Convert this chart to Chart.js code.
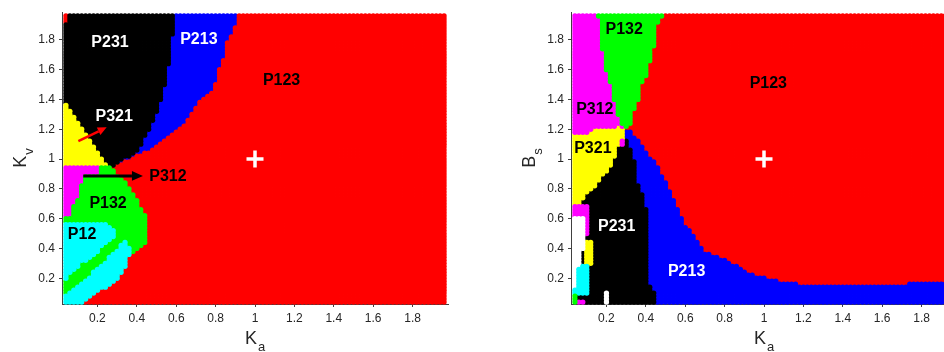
<!DOCTYPE html>
<html>
<head>
<meta charset="utf-8">
<script src="https://cdn.jsdelivr.net/npm/chart.js@4.4.1/dist/chart.umd.min.js"></script>
<style>
  html, body { margin: 0; padding: 0; background: #fff; width: 944px; height: 352px; overflow: hidden; }
  .panel { position: absolute; top: 0; width: 460px; height: 352px; }
</style>
</head>
<body>
<div class="panel" style="left:0"><canvas id="leftChart" width="460" height="352"></canvas></div>
<div class="panel" style="left:509px"><canvas id="rightChart" width="460" height="352"></canvas></div>

<script>
// sampling grid (Ka and the vertical parameter share it)
const gridFrom = 0.04;
const gridStep = 0.02;
const gridSize = 97;

// axis ticks
const tickValues = [0.2, 0.4, 0.6, 0.8, 1, 1.2, 1.4, 1.6, 1.8];
const tickLabels = ['0.2', '0.4', '0.6', '0.8', '1', '1.2', '1.4', '1.6', '1.8'];

// operating point
const centrePoint = [{ x: 1, y: 1 }];

// ---- left map (Ka, Kv): region outlines as [Ka, Kv] vertices ----
const leftBlue = [[0, 2.05], [0.925, 2.05], [0.922, 1.98], [0.902, 1.9], [0.882, 1.84], [0.856, 1.77],
  [0.836, 1.65], [0.821, 1.61], [0.786, 1.45], [0.72, 1.39], [0.654, 1.25], [0.583, 1.17],
  [0.482, 1.07], [0.38, 1.01], [0.28, 0.95], [0, 0.95]];
const leftBlack = [[0, 2.05], [0.583, 2.05], [0.583, 1.98], [0.578, 1.72], [0.558, 1.61], [0.533, 1.45],
  [0.502, 1.32], [0.457, 1.19], [0.416, 1.07], [0.35, 1.01], [0.28, 0.95], [0.255, 0.94],
  [0.229, 0.99], [0.178, 1.1], [0.112, 1.23], [0.036, 1.37], [0, 1.37]];
const leftRedCorner = [[0, 1.91], [0.05, 1.91], [0.05, 2.05], [0, 2.05]];
const leftYellow = [[0, 1.38], [0.036, 1.37], [0.112, 1.23], [0.178, 1.1], [0.229, 0.99], [0.255, 0.955], [0, 0.955]];
const leftGreen = [[0, 0.95], [0.26, 0.95], [0.27, 0.94], [0.32, 0.873], [0.366, 0.807], [0.396, 0.74],
  [0.421, 0.673], [0.447, 0.607], [0.46, 0.553], [0.46, 0.44], [0.431, 0.42], [0.4, 0.387],
  [0.366, 0.367], [0.346, 0.287], [0.305, 0.2], [0.239, 0.133], [0.168, 0.087], [0.138, 0.05],
  [0.138, 0], [0, 0]];
const leftMagenta = [[0, 0.955], [0.215, 0.955], [0.215, 0.885], [0.128, 0.885], [0.128, 0.873],
  [0.117, 0.82], [0.102, 0.74], [0.082, 0.7], [0.067, 0.64], [0.067, 0.62], [0, 0.62]];
const leftCyanTop = [[0, 0.58], [0.2, 0.58], [0.25, 0.56], [0.3, 0.51], [0.27, 0.453], [0.219, 0.4],
  [0.168, 0.34], [0.117, 0.3], [0.067, 0.24], [0.036, 0.187], [0, 0.187]];
const leftCyanStripe = [[0.335, 0.46], [0.356, 0.433], [0.366, 0.367], [0.346, 0.287], [0.305, 0.2],
  [0.239, 0.133], [0.168, 0.087], [0.138, 0.05], [0.138, 0], [0, 0], [0, 0.1], [0.041, 0.09],
  [0.077, 0.12], [0.128, 0.173], [0.178, 0.24], [0.229, 0.307], [0.28, 0.367], [0.32, 0.42]];

// ---- right map (Ka, Bs) ----
const rightBlue = [[0.29, 1.16], [0.308, 1.2], [0.343, 1.153], [0.379, 1.1], [0.409, 1.033], [0.445, 0.987],
  [0.47, 0.92], [0.485, 0.873], [0.505, 0.833], [0.52, 0.787], [0.536, 0.74], [0.556, 0.687],
  [0.581, 0.607], [0.607, 0.54], [0.632, 0.507], [0.662, 0.44], [0.688, 0.387], [0.738, 0.353],
  [0.809, 0.32], [0.875, 0.273], [0.925, 0.233], [0.99, 0.207], [1.042, 0.187], [1.128, 0.167],
  [1.229, 0.147], [1.6, 0.147], [1.787, 0.167], [2.05, 0.167], [2.05, 0], [0.29, 0]];
const rightBlack = [[0.293, 1.15], [0.31, 1.11], [0.328, 1.033], [0.343, 0.967], [0.343, 0.92],
  [0.359, 0.833], [0.379, 0.787], [0.384, 0.74], [0.404, 0.653], [0.404, 0.253], [0.41, 0.167],
  [0.434, 0.12], [0.459, 0.087], [0.459, 0], [0, 0], [0, 0.7], [0.065, 0.7], [0.08, 0.733],
  [0.105, 0.767], [0.141, 0.807], [0.156, 0.853], [0.207, 0.92], [0.242, 1.007], [0.267, 1.12]];
const rightGreen = [[0, 2.05], [0.485, 2.05], [0.485, 1.973], [0.48, 1.94], [0.46, 1.907], [0.455, 1.833],
  [0.445, 1.767], [0.43, 1.74], [0.419, 1.633], [0.404, 1.567], [0.384, 1.52], [0.369, 1.453],
  [0.359, 1.387], [0.343, 1.34], [0.333, 1.287], [0.328, 1.253], [0.308, 1.22], [0.295, 1.19], [0, 1.19]];
const rightMagenta = [[0, 2.05], [0.152, 2.05], [0.152, 1.973], [0.168, 1.92], [0.168, 1.807], [0.183, 1.72],
  [0.2, 1.673], [0.19, 1.607], [0.205, 1.567], [0.217, 1.52], [0.232, 1.433], [0.242, 1.387],
  [0.252, 1.32], [0.267, 1.253], [0.283, 1.22], [0.283, 1.1], [0, 1.1]];
const rightYellow = [[0, 1.16], [0.04, 1.165], [0.09, 1.17], [0.156, 1.22], [0.227, 1.207], [0.257, 1.233],
  [0.285, 1.21], [0.293, 1.15], [0.267, 1.12], [0.242, 1.007], [0.207, 0.92], [0.156, 0.853],
  [0.141, 0.807], [0.105, 0.767], [0.08, 0.733], [0.065, 0.7], [0, 0.69]];
const rightEdgeMagenta = [[0, 0.69], [0.105, 0.69], [0.112, 0.5], [0, 0.49]];
const rightEdgeCyan = [[0.03, 0.29], [0.105, 0.29], [0.115, 0.2], [0.105, 0.09], [0.03, 0.09]];
const rightEdgeYellow = [[0.085, 0.46], [0.125, 0.46], [0.135, 0.4], [0.125, 0.3], [0.085, 0.3]];
const rightEdgeWhite = [[0, 0.61], [0.085, 0.61], [0.085, 0.4], [0.07, 0.4], [0.07, 0.27], [0.05, 0.27],
  [0.05, 0.13], [0, 0.13]];
const rightCornerGreen = [[0, 0], [0.05, 0], [0.05, 0.09], [0, 0.09]];
const rightCornerMagenta = [[0.05, 0], [0.09, 0], [0.09, 0.05], [0.05, 0.05]];
const rightWhiteSpot = [[0.19, 0], [0.21, 0], [0.21, 0.11], [0.19, 0.11]];

// region colours
const regionColours = {
  P123: '#ff0000', P213: '#0000ff', P231: '#000000', P321: '#ffff00',
  P312: '#ff00ff', P132: '#00ff00', P12: '#00ffff', none: '#ffffff'
};

// later layers paint over earlier ones, anything left over is P123
const leftLayers = [
  ['P213', leftBlue], ['P231', leftBlack], ['P123', leftRedCorner], ['P321', leftYellow],
  ['P132', leftGreen], ['P312', leftMagenta], ['P12', leftCyanTop], ['P12', leftCyanStripe]
];
const rightLayers = [
  ['P213', rightBlue], ['P231', rightBlack], ['P132', rightGreen], ['P312', rightMagenta],
  ['P321', rightYellow], ['P312', rightEdgeMagenta], ['P12', rightEdgeCyan], ['P321', rightEdgeYellow],
  ['none', rightEdgeWhite], ['P132', rightCornerGreen], ['P312', rightCornerMagenta], ['none', rightWhiteSpot]
];

// region names written on the maps
const leftNotes = [
  { text: 'P231', x: 0.264, y: 1.78, color: '#fff' },
  { text: 'P213', x: 0.715, y: 1.8, color: '#fff' },
  { text: 'P123', x: 1.135, y: 1.527, color: '#000' },
  { text: 'P321', x: 0.285, y: 1.287, color: '#fff' },
  { text: 'P312', x: 0.558, y: 0.88, color: '#000' },
  { text: 'P132', x: 0.254, y: 0.7, color: '#000' },
  { text: 'P12', x: 0.122, y: 0.493, color: '#000' }
];
const leftArrows = [
  { from: [0.103, 1.12], to: [0.247, 1.213], color: '#ff0000', width: 2.5, head: 9 },
  { from: [0.128, 0.887], to: [0.431, 0.887], color: '#000', width: 3, head: 11 }
];
const rightNotes = [
  { text: 'P132', x: 0.29, y: 1.867, color: '#000' },
  { text: 'P312', x: 0.141, y: 1.333, color: '#000' },
  { text: 'P321', x: 0.131, y: 1.067, color: '#000' },
  { text: 'P123', x: 1.022, y: 1.507, color: '#000' },
  { text: 'P231', x: 0.252, y: 0.547, color: '#fff' },
  { text: 'P213', x: 0.607, y: 0.247, color: '#fff' }
];

const fontFamily = '"Liberation Sans", Arial, Helvetica, sans-serif';

function inside(poly, px, py) {
  let hit = false;
  for (let i = 0, j = poly.length - 1; i < poly.length; j = i++) {
    const [xi, yi] = poly[i];
    const [xj, yj] = poly[j];
    if ((yi > py) !== (yj > py) && px < (xj - xi) * (py - yi) / (yj - yi) + xi) hit = !hit;
  }
  return hit;
}

function classify(layers, ka, kv) {
  let region = 'P123';
  layers.forEach(([name, poly]) => {
    if (inside(poly, ka, kv)) region = name;
  });
  return region;
}

function drawArrow(ctx, x1, y1, x2, y2, color, width, head) {
  const ang = Math.atan2(y2 - y1, x2 - x1);
  const bx = x2 - head * Math.cos(ang);
  const by = y2 - head * Math.sin(ang);
  ctx.strokeStyle = color;
  ctx.fillStyle = color;
  ctx.lineWidth = width;
  ctx.beginPath();
  ctx.moveTo(x1, y1);
  ctx.lineTo(bx, by);
  ctx.stroke();
  ctx.beginPath();
  ctx.moveTo(x2, y2);
  ctx.lineTo(bx + head * 0.45 * Math.sin(ang), by - head * 0.45 * Math.cos(ang));
  ctx.lineTo(bx - head * 0.45 * Math.sin(ang), by + head * 0.45 * Math.cos(ang));
  ctx.closePath();
  ctx.fill();
}

// writes "K" with a lowered small letter after it
function drawTitle(ctx, main, sub, cx, cy, vertical) {
  ctx.save();
  ctx.fillStyle = '#262626';
  ctx.textBaseline = 'alphabetic';
  ctx.textAlign = 'left';
  ctx.font = '18px ' + fontFamily;
  const wMain = ctx.measureText(main).width;
  ctx.font = '13px ' + fontFamily;
  const wSub = ctx.measureText(sub).width;
  const total = wMain + 1 + wSub;
  ctx.translate(cx, cy);
  if (vertical) ctx.rotate(-Math.PI / 2);
  ctx.font = '18px ' + fontFamily;
  ctx.fillText(main, -total / 2, 6.5);
  ctx.font = '13px ' + fontFamily;
  ctx.fillText(sub, -total / 2 + wMain + 1, 13.5);
  ctx.restore();
}

function annotator(notes, arrows, xTitle, yTitle) {
  return {
    id: 'annotator',
    afterDatasetsDraw(chart) {
      const { ctx, scales: { x, y } } = chart;
      ctx.save();
      arrows.forEach(a => drawArrow(ctx,
        x.getPixelForValue(a.from[0]), y.getPixelForValue(a.from[1]),
        x.getPixelForValue(a.to[0]), y.getPixelForValue(a.to[1]),
        a.color, a.width, a.head));
      ctx.font = 'bold 16px ' + fontFamily;
      ctx.textAlign = 'center';
      ctx.textBaseline = 'middle';
      notes.forEach(n => {
        ctx.fillStyle = n.color;
        ctx.fillText(n.text, x.getPixelForValue(n.x), y.getPixelForValue(n.y));
      });
      ctx.restore();
    },
    afterDraw(chart) {
      const { ctx, chartArea } = chart;
      drawTitle(ctx, xTitle[0], xTitle[1], (chartArea.left + chartArea.right) / 2, 337, false);
      drawTitle(ctx, yTitle[0], yTitle[1], 19, (chartArea.top + chartArea.bottom) / 2, true);
    }
  };
}

function axisOptions(min, max, isX) {
  return {
    type: 'linear',
    min: min,
    max: max,
    afterFit: s => { if (isX) s.height = 48; else s.width = 62; },
    afterBuildTicks: s => { s.ticks = tickValues.map(v => ({ value: v })); },
    ticks: {
      callback: (v, i) => tickLabels[i],
      font: { family: fontFamily, size: 12 },
      color: '#262626',
      padding: 4,
      autoSkip: false,
      maxRotation: 0
    },
    grid: { drawOnChartArea: false, tickLength: 3, color: '#404040' },
    border: { display: true, color: '#404040', width: 1 }
  };
}

function buildChart(canvasId, layers, notes, arrows, yTitle) {
  const groups = {};
  for (let i = 0; i < gridSize; i++) {
    const ka = +(gridFrom + i * gridStep).toFixed(2);
    for (let j = 0; j < gridSize; j++) {
      const kv = +(gridFrom + j * gridStep).toFixed(2);
      const region = classify(layers, ka, kv);
      if (!groups[region]) groups[region] = [];
      groups[region].push({ x: ka, y: kv });
    }
  }

  const datasets = [{
    label: 'operating point',
    data: centrePoint,
    pointStyle: 'cross',
    pointRadius: 8.5,
    borderColor: '#ffffff',
    borderWidth: 3.5,
    order: 0
  }];
  Object.keys(groups).forEach(name => {
    datasets.push({
      label: name,
      data: groups[name],
      pointStyle: 'circle',
      pointRadius: 2.65,
      borderWidth: 0,
      backgroundColor: regionColours[name],
      clip: 4,
      order: 1
    });
  });

  return new Chart(document.getElementById(canvasId), {
    type: 'scatter',
    data: { datasets: datasets },
    options: {
      responsive: false,
      animation: false,
      events: [],
      layout: { padding: { top: 10, right: 11, left: 0, bottom: 0 } },
      plugins: { legend: { display: false }, tooltip: { enabled: false } },
      scales: {
        x: axisOptions(0.02, 1.98, true),
        y: axisOptions(0.027, 1.987, false)
      }
    },
    plugins: [annotator(notes, arrows, ['K', 'a'], yTitle)]
  });
}

buildChart('leftChart', leftLayers, leftNotes, leftArrows, ['K', 'v']);
buildChart('rightChart', rightLayers, rightNotes, [], ['B', 's']);
</script>
</body>
</html>
